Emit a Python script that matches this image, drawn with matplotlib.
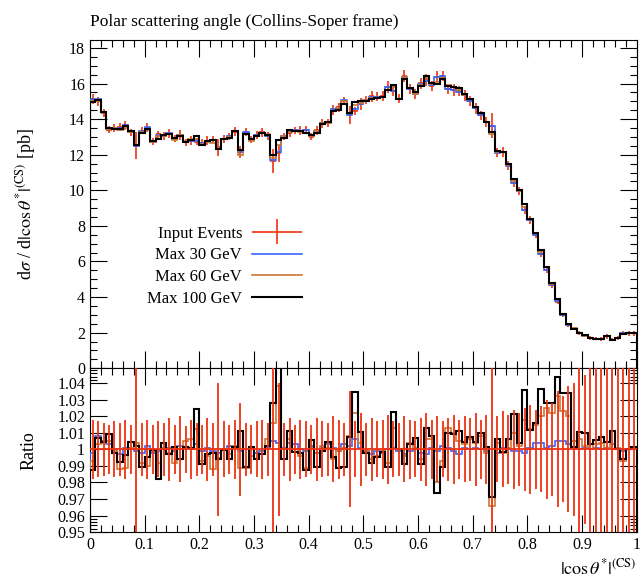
import numpy as np
import matplotlib
matplotlib.use('Agg')
import matplotlib.pyplot as plt
from matplotlib.ticker import MultipleLocator, FixedLocator, FuncFormatter
from matplotlib.legend_handler import HandlerErrorbar

plt.rcParams['font.family'] = ['Liberation Serif', 'DejaVu Serif']
plt.rcParams['mathtext.fontset'] = 'stix'

# binning: 100 bins in |cos theta*|
edges = np.linspace(0.0, 1.0, 101)

# Max 100 GeV [pb]
max100_vals = [
    14.96, 15.09, 14.40, 13.52, 13.46, 13.46, 13.60, 13.33, 12.53, 13.22,
    13.46, 12.75, 12.90, 13.09, 13.15, 12.94, 13.03, 12.71, 12.81, 13.03,
    12.57, 12.75, 12.81, 12.34, 12.90, 12.96, 13.31, 12.28, 13.15, 12.87,
    13.03, 13.22, 13.09, 11.97, 12.81, 12.96, 13.37, 13.33, 13.33, 13.22,
    13.09, 13.22, 13.75, 13.84, 14.46, 14.49, 14.87, 14.34, 14.96, 15.02,
    15.04, 15.15, 15.20, 15.26, 15.62, 15.94, 15.15, 16.26, 15.74, 15.52,
    15.88, 16.40, 16.01, 15.96, 16.24, 15.84, 15.80, 15.74, 15.40, 15.15,
    14.68, 14.35, 13.86, 13.25, 12.20, 12.15, 11.46, 10.66, 10.00, 9.21,
    8.41, 7.60, 6.63, 5.69, 4.79, 3.91, 3.07, 2.51, 2.23, 1.98,
    1.85, 1.72, 1.67, 1.67, 1.80, 1.61, 1.72, 1.95, 1.96, 1.96]

# ratio panel: MC / data
ratio_100 = [
    0.9875, 1.0066, 1.0046, 1.0093, 0.9976, 0.9925, 0.9966, 1.0046, 1.0020, 0.9895,
    0.9956, 0.9996, 0.9819, 1.0036, 0.9972, 1.0012, 0.9940, 1.0012, 1.0010, 1.0242,
    0.9911, 0.9972, 0.9976, 0.9940, 0.9996, 0.9940, 1.0012, 1.0113, 0.9895, 1.0016,
    0.9940, 0.9972, 1.0020, 1.0278, 1.0600, 0.9940, 1.0113, 0.9986, 0.9980, 0.9875,
    1.0056, 0.9891, 0.9992, 1.0046, 0.9952, 0.9885, 0.9895, 1.0077, 1.0344, 1.0107,
    0.9976, 0.9920, 0.9956, 0.9986, 0.9895, 1.0228, 1.0000, 0.9911, 1.0032, 1.0066,
    0.9911, 1.0127, 1.0081, 0.9738, 0.9891, 1.0097, 1.0093, 1.0113, 1.0046, 1.0073,
    1.0046, 1.0101, 1.0012, 0.9714, 1.0060, 0.9986, 1.0060, 1.0213, 1.0040, 1.0358,
    1.0117, 1.0157, 1.0362, 1.0278, 1.0282, 1.0440, 1.0338, 1.0338, 1.0016, 1.0107,
    1.0097, 1.0032, 1.0056, 1.0077, 1.0046, 1.0113, 1.0000, 0.9940, 1.0000, 1.0012]

ratio_60 = [
    0.9930, 1.0030, 1.0040, 1.0050, 0.9990, 0.9880, 0.9890, 1.0010, 1.0040, 0.9920,
    0.9900, 0.9990, 0.9920, 1.0010, 0.9980, 0.9915, 1.0000, 1.0050, 1.0060, 1.0120,
    0.9930, 0.9960, 0.9880, 0.9950, 1.0000, 0.9970, 1.0020, 0.9890, 0.9890, 0.9960,
    0.9940, 0.9970, 1.0060, 1.0160, 1.0380, 1.0000, 1.0060, 1.0000, 0.9960, 0.9890,
    1.0010, 0.9980, 1.0020, 1.0010, 0.9940, 0.9990, 1.0010, 1.0080, 1.0220, 1.0040,
    0.9990, 0.9940, 0.9960, 0.9990, 0.9920, 1.0130, 1.0000, 0.9960, 1.0040, 1.0010,
    0.9940, 1.0060, 1.0060, 0.9800, 0.9930, 1.0130, 1.0100, 1.0050, 1.0030, 1.0060,
    1.0040, 1.0080, 0.9980, 0.9660, 1.0040, 0.9980, 1.0010, 1.0100, 1.0020, 1.0180,
    1.0120, 1.0150, 1.0200, 1.0250, 1.0220, 1.0320, 1.0230, 1.0200, 1.0050, 1.0060,
    1.0020, 1.0000, 1.0030, 1.0040, 1.0010, 1.0030, 1.0010, 0.9930, 1.0000, 1.0010]

ratio_30 = [
    0.9980, 1.0080, 1.0050, 1.0030, 1.0000, 0.9970, 1.0010, 1.0000, 0.9990, 0.9980,
    1.0020, 0.9980, 0.9990, 1.0000, 1.0010, 0.9990, 1.0020, 1.0010, 1.0000, 1.0030,
    0.9990, 1.0010, 0.9990, 0.9980, 1.0000, 1.0020, 1.0010, 0.9990, 1.0000, 1.0010,
    0.9980, 0.9990, 1.0010, 1.0050, 1.0040, 1.0010, 1.0040, 1.0030, 1.0000, 0.9990,
    1.0020, 0.9980, 1.0010, 1.0030, 1.0010, 0.9990, 1.0030, 1.0020, 1.0060, 1.0010,
    0.9990, 0.9970, 0.9990, 0.9980, 1.0000, 1.0010, 0.9990, 0.9970, 0.9990, 1.0000,
    0.9980, 0.9970, 1.0010, 0.9990, 1.0020, 1.0010, 0.9990, 0.9970, 1.0010, 1.0000,
    1.0010, 1.0000, 0.9990, 1.0000, 0.9980, 1.0010, 1.0000, 0.9990, 0.9990, 0.9980,
    1.0010, 1.0040, 1.0040, 1.0010, 1.0020, 1.0050, 1.0050, 1.0030, 1.0010, 1.0000,
    1.0010, 1.0000, 1.0010, 1.0000, 1.0010, 1.0000, 1.0000, 0.9990, 1.0000, 1.0000]

# relative uncertainty of the input events
data_relerr = [
    0.018, 0.017, 0.016, 0.015, 0.017, 0.016, 0.018, 0.015, 0.060, 0.016,
    0.018, 0.015, 0.017, 0.016, 0.019, 0.015, 0.020, 0.014, 0.018, 0.016,
    0.015, 0.019, 0.016, 0.040, 0.017, 0.015, 0.018, 0.028, 0.016, 0.015,
    0.017, 0.018, 0.016, 0.060, 0.040, 0.016, 0.019, 0.015, 0.018, 0.017,
    0.015, 0.019, 0.017, 0.016, 0.020, 0.018, 0.016, 0.035, 0.017, 0.022,
    0.016, 0.019, 0.017, 0.018, 0.021, 0.017, 0.016, 0.020, 0.018, 0.017,
    0.019, 0.022, 0.018, 0.020, 0.017, 0.019, 0.021, 0.018, 0.020, 0.019,
    0.022, 0.018, 0.021, 0.050, 0.020, 0.023, 0.021, 0.024, 0.022, 0.025,
    0.027, 0.024, 0.026, 0.030, 0.028, 0.035, 0.032, 0.038, 0.040, 0.060,
    0.045, 0.070, 0.050, 0.060, 0.070, 0.050, 0.065, 0.055, 0.070, 0.060]

RED = '#EE3311'
BLUE = '#3366FF'
ORANGE = '#CC7733'

centers = 0.5 * (edges[1:] + edges[:-1])
halfw = 0.5 * np.diff(edges)
mc100 = np.array(max100_vals)
data = mc100 / np.array(ratio_100)
mc60 = data * np.array(ratio_60)
mc30 = data * np.array(ratio_30)
relerr = np.array(data_relerr)

fig = plt.figure(figsize=(6.42, 5.79), dpi=100)
ax = fig.add_axes([0.140, 0.364, 0.852, 0.567])
rax = fig.add_axes([0.140, 0.081, 0.852, 0.283], sharex=ax)

# main panel
eb = ax.errorbar(centers, data, xerr=halfw, yerr=data * relerr, fmt='none',
                 ecolor=RED, elinewidth=1.2, zorder=2)
ax.stairs(mc30, edges, color=BLUE, lw=1.2, zorder=3)
ax.stairs(mc60, edges, color=ORANGE, lw=1.2, zorder=4)
ax.stairs(mc100, edges, color='black', lw=1.5, zorder=5)

ax.set_xlim(0, 1)
ax.set_ylim(0, 18.45)
ax.yaxis.set_major_locator(MultipleLocator(2))
ax.yaxis.set_minor_locator(MultipleLocator(0.5))
ax.xaxis.set_major_locator(MultipleLocator(0.1))
ax.xaxis.set_minor_locator(MultipleLocator(0.02))
ax.tick_params(labelbottom=False)
ax.set_ylabel(r'd$\sigma$ / d$|\cos\theta^{*}|^{\mathrm{(CS)}}$ [pb]', fontsize=13)
ax.set_title('Polar scattering angle (Collins-Soper frame)', loc='left',
             fontsize=12.5, pad=10)

handles = [eb,
           plt.Line2D([], [], color=BLUE, lw=1.2),
           plt.Line2D([], [], color=ORANGE, lw=1.2),
           plt.Line2D([], [], color='black', lw=1.5)]
labels = ['Input Events', 'Max 30 GeV', 'Max 60 GeV', 'Max 100 GeV']
ax.legend(handles, labels, loc='upper right', bbox_to_anchor=(0.40, 0.455),
          frameon=False, markerfirst=False, fontsize=12, handlelength=3.0,
          labelspacing=0.35, handletextpad=0.6, borderaxespad=0,
          handler_map={type(eb): HandlerErrorbar(xerr_size=1.5, yerr_size=0.75)})

# ratio panel
rax.stairs(ratio_30, edges, color=BLUE, lw=1.2, zorder=3)
rax.stairs(ratio_60, edges, color=ORANGE, lw=1.2, zorder=4)
rax.stairs(ratio_100, edges, color='black', lw=1.5, zorder=5)
rax.errorbar(centers, np.ones_like(centers), xerr=halfw, yerr=relerr,
             fmt='none', ecolor=RED, elinewidth=1.3, zorder=6)
rax.set_ylim(0.95, 1.049)
rax.yaxis.set_major_locator(MultipleLocator(0.01))
rax.yaxis.set_minor_locator(FixedLocator([0.952, 0.954, 0.956, 0.958,
                                          1.042, 1.044, 1.046, 1.048]))
rax.yaxis.set_major_formatter(FuncFormatter(
    lambda v, p: '1' if abs(v - 1) < 1e-9 else f'{v:.2f}'))
rax.set_ylabel('Ratio', fontsize=13)
rax.xaxis.set_major_formatter(FuncFormatter(lambda v, p: f'{v:g}'))
rax.set_xlabel(r'$|\cos\theta^{*}|^{\mathrm{(CS)}}$', loc='right', fontsize=13)

for a in (ax, rax):
    a.tick_params(which='both', direction='in', top=True, right=True,
                  labelsize=11.5)
    a.tick_params(which='major', length=12, width=0.8)
    a.tick_params(which='minor', length=5, width=0.8)
    a.yaxis.set_label_coords(-0.095, 0.5)

fig.savefig('out.png', dpi=100)
